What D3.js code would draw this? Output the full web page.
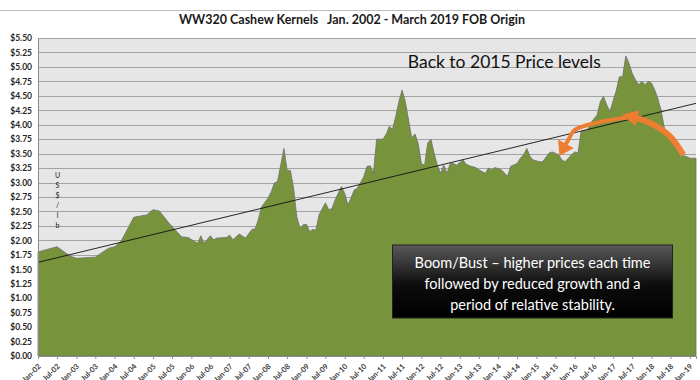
<!DOCTYPE html>
<html>
<head>
<meta charset="utf-8">
<script src="https://cdn.jsdelivr.net/npm/d3@7"></script>
<style>
  body { margin: 0; background: #fff; }
  svg { display: block; font-family: Lato, "Liberation Sans", sans-serif; }
</style>
</head>
<body>
<svg id="chart" width="700" height="380"></svg>
<script>
// WW320 cashew kernel price, US$/lb
const months = [
  "2002-01","2002-07","2002-11","2003-01","2003-07","2003-11","2004-01","2004-03","2004-07","2004-11",
  "2005-01","2005-03","2005-06","2005-10","2005-12","2006-03","2006-04","2006-05","2006-07","2006-08",
  "2006-09","2006-12","2007-01","2007-02","2007-04","2007-06","2007-08","2007-09","2007-10","2007-11",
  "2008-01","2008-02","2008-03","2008-04","2008-06","2008-07","2008-08","2008-09","2008-10","2008-11",
  "2008-12","2009-01","2009-02","2009-03","2009-04","2009-05","2009-07","2009-08","2009-09","2009-10",
  "2009-12","2010-01","2010-02","2010-03","2010-04","2010-05","2010-07","2010-08","2010-09","2010-10",
  "2010-11","2011-01","2011-02","2011-03","2011-04","2011-05","2011-06","2011-07","2011-08","2011-09",
  "2011-10","2011-11","2011-12","2012-01","2012-02","2012-03","2012-04","2012-05","2012-06","2012-07",
  "2012-08","2012-09","2012-10","2012-11","2012-12","2013-02","2013-03","2013-04","2013-06","2013-07",
  "2013-09","2013-10","2013-11","2013-12","2014-02","2014-04","2014-05","2014-07","2014-08","2014-09",
  "2014-10","2014-11","2014-12","2015-02","2015-03","2015-05","2015-06","2015-08","2015-09","2015-10",
  "2015-12","2016-01","2016-02","2016-03","2016-05","2016-06","2016-08","2016-09","2016-10","2016-11",
  "2016-12","2017-02","2017-03","2017-04","2017-05","2017-06","2017-07","2017-08","2017-09","2017-10",
  "2017-11","2017-12","2018-01","2018-02","2018-03","2018-04","2018-05","2018-06","2018-07","2018-08",
  "2018-09","2018-10","2018-12","2019-01","2019-03"
];
const prices = [
  1.80,1.89,1.73,1.69,1.71,1.86,1.89,1.98,2.40,2.44,
  2.53,2.51,2.30,2.06,2.05,1.95,2.08,1.95,2.08,2.01,
  2.04,2.05,2.09,2.01,2.11,2.04,2.19,2.20,2.36,2.58,
  2.73,2.84,2.99,3.02,3.59,3.21,3.21,2.90,2.41,2.21,
  2.27,2.28,2.15,2.19,2.18,2.44,2.65,2.53,2.55,2.70,
  2.93,2.81,2.61,2.73,2.87,2.90,3.10,3.28,3.29,3.16,
  3.75,3.75,3.84,3.97,3.92,4.14,4.40,4.60,4.40,4.08,
  3.77,3.84,3.68,3.33,3.30,3.68,3.75,3.51,3.30,3.16,
  3.30,3.16,3.33,3.33,3.30,3.39,3.32,3.29,3.26,3.22,
  3.16,3.25,3.22,3.26,3.22,3.11,3.28,3.33,3.42,3.48,
  3.59,3.45,3.39,3.36,3.36,3.51,3.53,3.48,3.39,3.36,
  3.48,3.53,3.51,3.88,3.91,4.03,4.17,4.40,4.49,4.34,
  4.23,4.60,4.83,4.83,5.19,5.06,4.89,4.78,4.69,4.75,
  4.69,4.75,4.72,4.60,4.46,4.26,3.97,3.79,3.77,3.79,
  3.56,3.48,3.45,3.42,3.42
];

// linear trend line end points
const trendMonths = ["2002-01", "2019-03"];
const trendPrices = [1.62, 4.37];

const yTicks = [0, 0.25, 0.5, 0.75, 1, 1.25, 1.5, 1.75, 2, 2.25, 2.5, 2.75,
                3, 3.25, 3.5, 3.75, 4, 4.25, 4.5, 4.75, 5, 5.25, 5.5];

const titleText = "WW320 Cashew Kernels   Jan. 2002 - March 2019 FOB Origin";
const unitLetters = ["U", "S", "$", "/", "l", "b"];
const calloutText = "Back to 2015 Price levels";
const boxLines = ["Boom/Bust \u2013 higher prices each time",
                  "followed by reduced growth and a",
                  "period of relative stability."];

// orange arrows, given in chart space (month, price)
const arrowRightMonths = ["2018-11", "2018-07", "2018-03", "2017-11", "2017-08"];
const arrowRightPrices = [3.48, 3.79, 3.96, 4.07, 4.12];
const arrowLeftMonths = ["2017-06", "2016-09", "2016-01", "2015-11", "2015-10"];
const arrowLeftPrices = [4.13, 4.05, 3.91, 3.74, 3.64];

const parse = d3.timeParse("%Y-%m");

const margin = {top: 38, right: 4, bottom: 24, left: 38};
const width = 700, height = 380;
const plotW = width - margin.left - margin.right;
const plotH = height - margin.top - margin.bottom;

const svg = d3.select("#chart");

// gradients + arrow markers
const defs = svg.append("defs");
const boxGrad = defs.append("linearGradient")
    .attr("id", "boxGrad").attr("x1", 0).attr("y1", 0).attr("x2", 0).attr("y2", 1);
boxGrad.append("stop").attr("offset", "0%").attr("stop-color", "#5a5a5a");
boxGrad.append("stop").attr("offset", "55%").attr("stop-color", "#0c0c0c");
boxGrad.append("stop").attr("offset", "100%").attr("stop-color", "#000");

defs.append("marker")
    .attr("id", "headR")
    .attr("markerUnits", "userSpaceOnUse")
    .attr("viewBox", "0 -8 16 16")
    .attr("refX", 2).attr("refY", 0)
    .attr("markerWidth", 16).attr("markerHeight", 16)
    .attr("orient", "auto")
  .append("path")
    .attr("d", "M0,-8L16,0L0,8Z")
    .attr("fill", "#ed7d31");

defs.append("marker")
    .attr("id", "headL")
    .attr("markerUnits", "userSpaceOnUse")
    .attr("viewBox", "0 -9 14 18")
    .attr("refX", 2).attr("refY", 0)
    .attr("markerWidth", 14).attr("markerHeight", 18)
    .attr("orient", "auto")
  .append("path")
    .attr("d", "M0,-9L14,0L0,9Z")
    .attr("fill", "#ed7d31");

// chart border line at top
svg.append("line")
    .attr("x1", 0).attr("x2", width)
    .attr("y1", 10.5).attr("y2", 10.5)
    .attr("stroke", "#bfbfbf");

svg.append("text")
    .attr("x", 352).attr("y", 24)
    .attr("text-anchor", "middle")
    .attr("font-size", 12.5)
    .attr("font-weight", "bold")
    .attr("fill", "#1a1a1a")
    .style("white-space", "pre")
    .text(titleText);

const g = svg.append("g")
    .attr("transform", "translate(" + margin.left + "," + margin.top + ")");

const x = d3.scaleTime()
    .domain([parse("2002-01"), parse("2019-03")])
    .range([0, plotW]);

const y = d3.scaleLinear()
    .domain([0, 5.5])
    .range([plotH, 0]);

g.append("rect")
    .attr("width", plotW).attr("height", plotH)
    .attr("fill", "#e6e6e6");

// grid
g.append("g")
  .selectAll("line")
  .data(yTicks)
  .enter().append("line")
    .attr("x1", 0).attr("x2", plotW)
    .attr("y1", d => Math.round(y(d)) + 0.5)
    .attr("y2", d => Math.round(y(d)) + 0.5)
    .attr("stroke", "#a3a3a3");

const series = months.map((m, i) => ({date: parse(m), value: prices[i]}));

const area = d3.area()
    .x(d => x(d.date))
    .y0(y(0))
    .y1(d => y(d.value));

g.append("path")
    .datum(series)
    .attr("d", area)
    .attr("fill", "#77933c")
    .attr("stroke", "#6f6f6f")
    .attr("stroke-width", 0.8);

// trend line
const trend = trendMonths.map((m, i) => ({date: parse(m), value: trendPrices[i]}));
g.append("path")
    .datum(trend)
    .attr("d", d3.line().x(d => x(d.date)).y(d => y(d.value)))
    .attr("stroke", "#111")
    .attr("stroke-width", 0.9)
    .attr("fill", "none");

// y axis
const yAxis = g.append("g")
    .call(d3.axisLeft(y).tickValues(yTicks).tickSize(0).tickPadding(6)
        .tickFormat(d3.format("$.2f")));
yAxis.select(".domain").attr("stroke", "#8c8c8c");
yAxis.selectAll("text")
    .attr("font-size", 8.5)
    .attr("font-weight", "bold")
    .attr("fill", "#262626")
    .attr("font-family", "Lato, sans-serif");

// x axis
const xAxis = g.append("g")
    .attr("transform", "translate(0," + plotH + ")")
    .call(d3.axisBottom(x).ticks(d3.timeMonth.every(6)).tickSize(3)
        .tickFormat(d3.timeFormat("%b-%y")));
xAxis.select(".domain").attr("stroke", "#8c8c8c");
xAxis.selectAll(".tick line").attr("stroke", "#8c8c8c");
xAxis.selectAll("text")
    .attr("x", 0).attr("y", 0).attr("dy", "0.35em")
    .attr("transform", "translate(1,9) rotate(-45)")
    .style("text-anchor", "end")
    .attr("font-size", 7.5)
    .attr("font-weight", "bold")
    .attr("fill", "#404040")
    .attr("font-family", "Lato, sans-serif");

// stacked unit label
g.append("g")
  .selectAll("text")
  .data(unitLetters)
  .enter().append("text")
    .attr("x", 19.5)
    .attr("y", (d, i) => 140 + i * 10)
    .attr("text-anchor", "middle")
    .attr("font-size", 7)
    .attr("fill", "#222")
    .text(d => d);

// orange arrows
const arrowLine = d3.line()
    .x(d => x(d.date)).y(d => y(d.value))
    .curve(d3.curveCatmullRom);

const rightPts = arrowRightMonths.map((m, i) => ({date: parse(m), value: arrowRightPrices[i]}));
const leftPts = arrowLeftMonths.map((m, i) => ({date: parse(m), value: arrowLeftPrices[i]}));

const arrGrad = defs.append("linearGradient")
    .attr("id", "arrGrad")
    .attr("gradientUnits", "userSpaceOnUse")
    .attr("x1", margin.left + x(parse("2017-08"))).attr("x2", margin.left + x(parse("2018-11")))
    .attr("y1", 0).attr("y2", 0);
arrGrad.append("stop").attr("offset", "0%").attr("stop-color", "#ed7d31");
arrGrad.append("stop").attr("offset", "100%").attr("stop-color", "#f0a36c");

g.append("path")
    .datum(rightPts)
    .attr("d", arrowLine)
    .attr("fill", "none")
    .attr("stroke", "url(#arrGrad)")
    .attr("stroke-width", 6)
    .attr("marker-end", "url(#headR)");

g.append("path")
    .datum(leftPts)
    .attr("d", arrowLine)
    .attr("fill", "none")
    .attr("stroke", "#ed7d31")
    .attr("stroke-width", 4)
    .attr("marker-end", "url(#headL)");

// callout text
g.append("text")
    .attr("x", x(parse("2014-03")))
    .attr("y", y(4.98))
    .attr("text-anchor", "middle")
    .attr("font-size", 17.5)
    .attr("fill", "#111")
    .text(calloutText);

// black note box
const box = g.append("g")
    .attr("transform", "translate(" + x(parse("2011-04")) + "," + y(1.92) + ")");
box.append("rect")
    .attr("width", 280).attr("height", 73)
    .attr("fill", "url(#boxGrad)")
    .attr("stroke", "#222")
    .attr("stroke-width", 1);
box.selectAll("text")
  .data(boxLines)
  .enter().append("text")
    .attr("x", 140)
    .attr("y", (d, i) => 23 + i * 21)
    .attr("text-anchor", "middle")
    .attr("font-size", 14.5)
    .attr("fill", "#fff")
    .text(d => d);
</script>
</body>
</html>
